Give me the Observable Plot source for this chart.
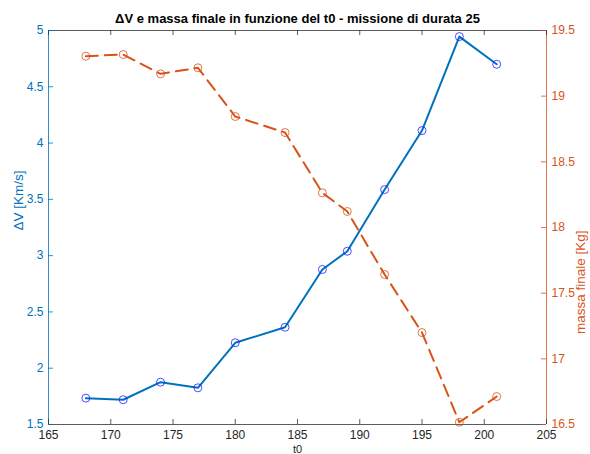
<!DOCTYPE html>
<html>
<head>
<meta charset="utf-8">
<script src="https://cdn.jsdelivr.net/npm/d3@7"></script>
<script src="https://cdn.jsdelivr.net/npm/@observablehq/plot@0.6"></script>
<style>
  html, body { margin: 0; padding: 0; background: #fff; }
  svg { display: block; }
</style>
</head>
<body>
<div id="chart"></div>
<script>
// ---- data ----
const t0 = [168, 171, 174, 177, 180, 184, 187, 189, 192, 195, 198, 201];
const deltaV = [1.734, 1.72, 1.876, 1.826, 2.226, 2.364, 2.877, 3.039, 3.587, 4.111, 4.946, 4.70];
const massa = [19.304, 19.317, 19.17, 19.216, 18.845, 18.723, 18.264, 18.122, 17.642, 17.2, 16.517, 16.713];

const xDomain = [165, 205];
const xTicks = [165, 170, 175, 180, 185, 190, 195, 200, 205];
const yLeftDomain = [1.5, 5];
const yLeftTicks = [1.5, 2, 2.5, 3, 3.5, 4, 4.5, 5];
const yRightDomain = [16.5, 19.5];
const yRightTicks = [16.5, 17, 17.5, 18, 18.5, 19, 19.5];

const title = "ΔV e massa finale in funzione del t0 - missione di durata 25";
const xLabel = "t0";
const yLeftLabel = "ΔV [Km/s]";
const yRightLabel = "massa finale [Kg]";

// map right-axis values into the left-axis domain (twin axis)
const toLeft = m => yLeftDomain[0] + (m - yRightDomain[0]) * (yLeftDomain[1] - yLeftDomain[0]) / (yRightDomain[1] - yRightDomain[0]);
const fromLeft = v => yRightDomain[0] + (v - yLeftDomain[0]) * (yRightDomain[1] - yRightDomain[0]) / (yLeftDomain[1] - yLeftDomain[0]);

const dvData = t0.map((t, i) => ({t, v: deltaV[i]}));
const mData = t0.map((t, i) => ({t, m: massa[i], v: toLeft(massa[i])}));

const blue = "#0072BD";
const orange = "#D95319";
const dark = "#262626";

const W = 590, H = 454;
const mL = 48, mR = 44, mT = 30, mB = 30;
const innerH = H - mT - mB;
const innerW = W - mL - mR;
const tick = 5;

const fmt = d => String(d);

const chart = Plot.plot({
  width: W,
  height: H,
  marginLeft: mL,
  marginRight: mR,
  marginTop: mT,
  marginBottom: mB,
  style: {fontFamily: "'Liberation Sans', Arial, Helvetica, sans-serif", fontSize: "12px", background: "#fff"},
  x: {domain: xDomain, label: null},
  y: {domain: yLeftDomain, label: null},
  marks: [
    // frame lines
    Plot.ruleY([yLeftDomain[0]], {stroke: dark, strokeOpacity: 0.75, strokeWidth: 1}),
    Plot.ruleY([yLeftDomain[1]], {stroke: dark, strokeOpacity: 0.75, strokeWidth: 1}),
    Plot.ruleX([xDomain[0]], {stroke: blue, strokeOpacity: 0.8, strokeWidth: 1}),
    Plot.ruleX([xDomain[1]], {stroke: orange, strokeOpacity: 0.8, strokeWidth: 1}),
    // inward ticks
    Plot.tickX(xTicks, {x: d => d, insetTop: innerH - tick, stroke: dark, strokeOpacity: 0.75}),
    Plot.tickX(xTicks, {x: d => d, insetBottom: innerH - tick, stroke: dark, strokeOpacity: 0.75}),
    Plot.tickY(yLeftTicks, {y: d => d, insetRight: innerW - tick, stroke: blue, strokeOpacity: 0.8}),
    Plot.tickY(yRightTicks.map(toLeft), {y: d => d, insetLeft: innerW - tick, stroke: orange, strokeOpacity: 0.8}),
    // axes labels
    Plot.axisX(xTicks, {anchor: "bottom", tickSize: 0, tickPadding: 6, tickFormat: fmt, fill: dark, label: null}),
    Plot.axisY(yLeftTicks, {anchor: "left", tickSize: 0, tickPadding: 5, tickFormat: fmt, fill: blue, label: null}),
    Plot.axisY(yRightTicks.map(toLeft), {anchor: "right", tickSize: 0, tickPadding: 5, tickFormat: d => fmt(+fromLeft(d).toFixed(2)), fill: orange, label: null}),
    // series
    Plot.line(dvData, {x: "t", y: "v", stroke: blue, strokeWidth: 2}),
    Plot.dot(dvData, {x: "t", y: "v", r: 4, stroke: "#2020ff", strokeWidth: 0.8, fill: "none"}),
    Plot.line(mData, {x: "t", y: "v", stroke: orange, strokeWidth: 2, strokeDasharray: "12,7"}),
    Plot.dot(mData, {x: "t", y: "v", r: 4, stroke: orange, strokeWidth: 0.8, fill: "none"}),
    // titles
    Plot.text([title], {frameAnchor: "top", dy: -12, text: d => d, fontWeight: "bold", fontSize: 13, fill: "#000", lineAnchor: "middle"}),
    Plot.text([yLeftLabel], {frameAnchor: "left", dx: -30, dy: 3, text: d => d, rotate: -90, fill: blue, fontSize: 13.5, lineAnchor: "middle"}),
    Plot.text([yRightLabel], {frameAnchor: "right", dx: 34, dy: 3, text: d => d, rotate: -90, fill: orange, fontSize: 13.5, lineAnchor: "middle"}),
    Plot.text([xLabel], {frameAnchor: "bottom", dy: 24.5, text: d => d, fill: dark, fontSize: 11, lineAnchor: "middle"})
  ]
});

document.getElementById("chart").appendChild(chart);
</script>
</body>
</html>
